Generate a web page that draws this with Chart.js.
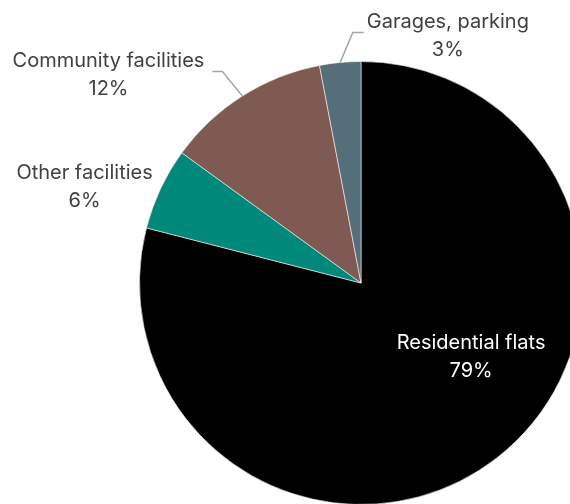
<!DOCTYPE html>
<html>
<head>
<meta charset="utf-8">
<script src="https://cdn.jsdelivr.net/npm/chart.js@4/dist/chart.umd.min.js"></script>
<style>
    html, body { margin: 0; padding: 0; background: #fff; }
    #wrap { width: 570px; height: 504px; overflow: hidden; position: relative; }
    #pie { position: absolute; left: 0; top: 0; }
</style>
</head>
<body>
<div id="wrap">
    <canvas id="pie" width="722" height="566"></canvas>
</div>
<script>
const categories = ['Residential flats', 'Other facilities', 'Community facilities', 'Garages, parking'];
const shares = [79, 6, 12, 3];
const sliceColors = ['#000000', '#00897b', '#7f5a53', '#546e7a'];

// where each label sits, relative to the pie centre in units of radius,
// and whether it gets a leader line
const labelSpots = [
    { dx: 0.497, dy: 0.333, color: '#ffffff', leader: false },
    { dx: -1.248, dy: -0.432, color: '#404040', leader: false },
    { dx: -1.140, dy: -0.941, color: '#404040', leader: true, side: 'left' },
    { dx: 0.392, dy: -1.117, color: '#404040', leader: true, side: 'right' }
];

const FONT = '20px Inter, "Noto Sans", sans-serif';
const LINE_GAP = 28;

const sliceLabels = {
    id: 'sliceLabels',
    afterDatasetsDraw(chart) {
        const ctx = chart.ctx;
        const meta = chart.getDatasetMeta(0);
        ctx.save();
        ctx.font = FONT;
        ctx.textAlign = 'center';
        ctx.textBaseline = 'middle';
        meta.data.forEach((arc, i) => {
            const spot = labelSpots[i];
            const r = arc.outerRadius;
            const x = arc.x + spot.dx * r;
            const y = arc.y + spot.dy * r;
            const top = y - LINE_GAP / 2;

            if (spot.leader) {
                const mid = (arc.startAngle + arc.endAngle) / 2;
                const ex = arc.x + Math.cos(mid) * r;
                const ey = arc.y + Math.sin(mid) * r;
                const half = ctx.measureText(categories[i]).width / 2;
                const ly = top + 11;
                let elbowX, endX;
                if (spot.side === 'left') {
                    endX = x + half + 8;
                    elbowX = endX + 10;
                } else {
                    endX = x - half - 3;
                    elbowX = endX - 11;
                }
                ctx.strokeStyle = '#a6a6a6';
                ctx.lineWidth = 1.5;
                ctx.beginPath();
                ctx.moveTo(ex, ey);
                ctx.lineTo(elbowX, ly);
                ctx.lineTo(endX, ly);
                ctx.stroke();
            }

            ctx.fillStyle = spot.color;
            ctx.fillText(categories[i], x, top);
            ctx.fillText(shares[i] + '%', x, top + LINE_GAP);
        });
        ctx.restore();
    }
};

new Chart(document.getElementById('pie'), {
    type: 'pie',
    data: {
        labels: categories,
        datasets: [{
            data: shares,
            backgroundColor: sliceColors,
            borderColor: 'rgba(255,255,255,0.55)',
            borderWidth: 1
        }]
    },
    options: {
        responsive: false,
        animation: false,
        layout: { padding: 61 },
        plugins: {
            legend: { display: false },
            tooltip: { enabled: false }
        }
    },
    plugins: [sliceLabels]
});
</script>
</body>
</html>
